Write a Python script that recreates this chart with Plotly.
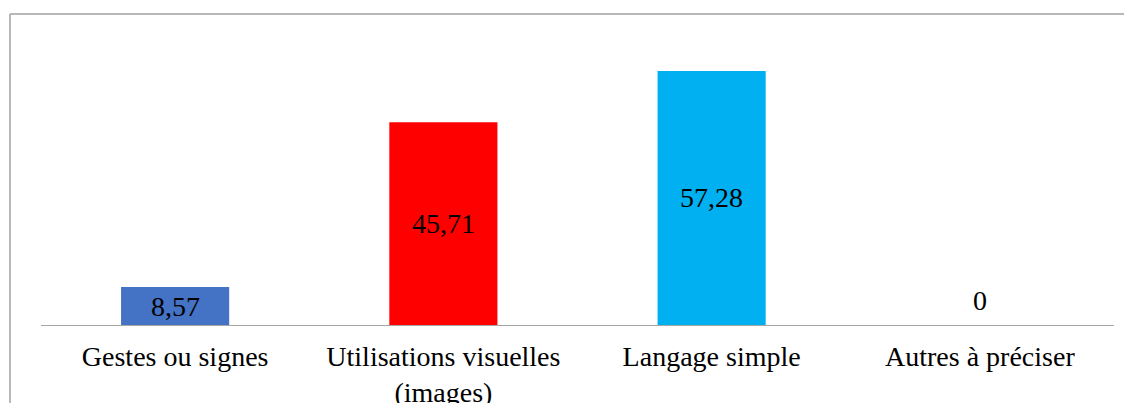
import plotly.graph_objects as go

categories = ["Gestes ou signes", "Utilisations visuelles<br>(images)", "Langage simple", "Autres à préciser"]
values = [8.57, 45.71, 57.28, 0]
value_labels = ["8,57", "45,71", "57,28", "0"]
colors = ["#4472C4", "#FF0000", "#00B0F0", "#A5A5A5"]

FONT = "Times New Roman, Liberation Serif, serif"
FS = 28
W, H = 1132, 403
# page body has an 8px default margin; compensate so the plot lands where intended
ml, mr, mt, mb = 33, 26, 7, 86
plot_w = W - ml - mr
plot_h = H - mt - mb
ymax = 69.9

fig = go.Figure()
fig.add_trace(go.Bar(
    x=categories, y=values, marker=dict(color=colors, line=dict(width=0)),
    hoverinfo="skip", showlegend=False,
))

for c, v, lab in zip(categories, values, value_labels):
    fig.add_annotation(
        x=c, y=v / 2 if v > 0 else 0, text=lab, showarrow=False,
        yshift=0 if v > 0 else 25,
        font=dict(family=FONT, size=FS, color="#000000"),
    )

# outer border (left and top visible)
x0 = (2 - ml) / plot_w
y0 = 1 + (mt - 6) / plot_h
fig.add_shape(type="line", xref="paper", yref="paper", x0=x0, x1=x0, y0=y0, y1=-mb / plot_h - 0.05,
              line=dict(color="#A0A0A0", width=1.5))
fig.add_shape(type="line", xref="paper", yref="paper", x0=x0, x1=(W - ml) / plot_w + 0.02, y0=y0, y1=y0,
              line=dict(color="#A0A0A0", width=1.5))

fig.update_layout(
    width=W, height=H,
    margin=dict(l=ml, r=mr, t=mt, b=mb, autoexpand=False),
    paper_bgcolor="white", plot_bgcolor="white",
    bargap=0.597,
    font=dict(family=FONT, size=FS, color="#000000"),
    xaxis=dict(showline=True, linecolor="#A6A6A6", linewidth=1.2, ticks="",
               tickfont=dict(family=FONT, size=FS, color="#000000"), showgrid=False,
               automargin=False, ticklabelstandoff=6, fixedrange=True),
    yaxis=dict(range=[0, ymax], visible=False, showgrid=False, fixedrange=True, automargin=False),
)

fig.write_html("out.html")
